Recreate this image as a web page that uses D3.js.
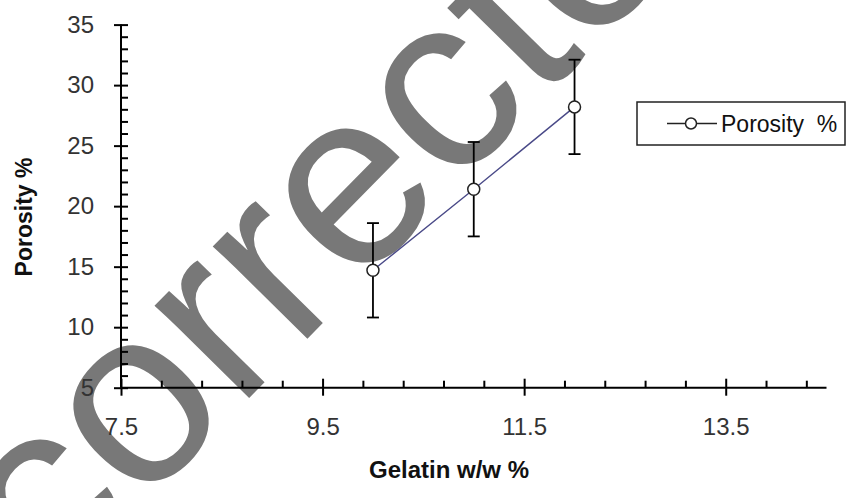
<!DOCTYPE html>
<html>
<head>
<meta charset="utf-8">
<script src="https://cdn.jsdelivr.net/npm/d3@7"></script>
<style>
  html, body { margin: 0; padding: 0; background: #fff; }
  svg { display: block; font-family: "Liberation Sans", Arial, sans-serif; }
</style>
</head>
<body>
<svg id="chart" width="849" height="498"></svg>
<script>
// Porosity of scaffolds vs gelatin content (mean ± error)
const gelatin = [10, 11, 12];
const porosity = [14.7, 21.4, 28.2];
const porosityErr = [3.9, 3.9, 3.9];

const xMajorTicks = [7.5, 9.5, 11.5, 13.5];
const yMajorTicks = [5, 10, 15, 20, 25, 30, 35];
const xDomain = [7.5, 14.5];
const yDomain = [5, 35];
const xMinorStep = 0.4;
const yMinorStep = 1;

const seriesName = "Porosity  %";
const xTitle = "Gelatin w/w %";
const yTitle = "Porosity %";
const stampText = "corrected";

const svg = d3.select("#chart");

const plot = { left: 121, right: 826.5, top: 24.6, bottom: 387.7 };
const x = d3.scaleLinear().domain(xDomain).range([plot.left, plot.right]);
const y = d3.scaleLinear().domain(yDomain).range([plot.bottom, plot.top]);

// large grey stamp lying under the chart
svg.append("text")
  .attr("transform", "translate(51.9,598.7) rotate(-45.5)")
  .attr("font-size", 250)
  .attr("fill", "#787878")
  .text(stampText);

const axisColor = "#000";
const labelColor = "#333";

// minor tick positions
const xMinor = d3.range(xDomain[0], xDomain[1] + 1e-9, xMinorStep)
  .filter(v => !xMajorTicks.some(m => Math.abs(m - v) < 1e-6));
const yMinor = d3.range(yDomain[0], yDomain[1] + 1e-9, yMinorStep)
  .filter(v => !yMajorTicks.some(m => Math.abs(m - v) < 1e-6));

// X axis
const gx = svg.append("g").attr("transform", `translate(0,${plot.bottom})`);
gx.call(d3.axisBottom(x).tickValues(xMinor).tickSize(-7).tickFormat(""));
gx.call(g => g.select(".domain").remove());
const gxMaj = svg.append("g").attr("transform", `translate(0,${plot.bottom})`);
gxMaj.call(d3.axisBottom(x).tickValues(xMajorTicks).tickSize(8).tickPadding(22)
  .tickFormat(d3.format(".1f")));
gxMaj.select(".domain").attr("d", `M${plot.left},0H${plot.right}`);
gxMaj.selectAll(".tick line").attr("y1", -9);
[gx, gxMaj].forEach(g => {
  g.selectAll("line, path").attr("stroke", axisColor).attr("stroke-width", 2);
});
gxMaj.selectAll("text").attr("font-size", 24).attr("fill", labelColor)
  .attr("font-family", "'Liberation Sans', Arial, sans-serif");

// Y axis
const gy = svg.append("g").attr("transform", `translate(${plot.left},0)`);
gy.call(d3.axisLeft(y).tickValues(yMinor).tickSize(-7).tickFormat(""));
gy.call(g => g.select(".domain").remove());
const gyMaj = svg.append("g").attr("transform", `translate(${plot.left},0)`);
gyMaj.call(d3.axisLeft(y).tickValues(yMajorTicks).tickSize(7).tickPadding(20)
  .tickFormat(d3.format("d")));
gyMaj.select(".domain").attr("d", `M0,${plot.bottom}V${plot.top}`);
gyMaj.selectAll(".tick line").attr("x1", 7);
[gy, gyMaj].forEach(g => {
  g.selectAll("line, path").attr("stroke", axisColor).attr("stroke-width", 2);
});
gyMaj.selectAll("text").attr("font-size", 24).attr("fill", labelColor)
  .attr("font-family", "'Liberation Sans', Arial, sans-serif");

// axis titles
svg.append("text")
  .attr("x", 449).attr("y", 478)
  .attr("text-anchor", "middle")
  .attr("font-size", 24).attr("font-weight", "bold").attr("fill", "#111")
  .text(xTitle);
svg.append("text")
  .attr("transform", "translate(32,217) rotate(-90)")
  .attr("text-anchor", "middle")
  .attr("font-size", 23).attr("font-weight", "bold").attr("fill", "#111")
  .text(yTitle);

// data
const pts = gelatin.map((g, i) => ({ x: g, y: porosity[i], e: porosityErr[i] }));

svg.append("path")
  .datum(pts)
  .attr("fill", "none")
  .attr("stroke", "#4a4a88")
  .attr("stroke-width", 1.4)
  .attr("d", d3.line().x(d => x(d.x)).y(d => y(d.y)));

const eb = svg.append("g").attr("stroke", "#000").attr("stroke-width", 1.8);
pts.forEach(d => {
  const cx = x(d.x), top = y(d.y + d.e), bot = y(d.y - d.e);
  eb.append("line").attr("x1", cx).attr("x2", cx).attr("y1", top).attr("y2", bot);
  eb.append("line").attr("x1", cx - 6).attr("x2", cx + 6).attr("y1", top).attr("y2", top);
  eb.append("line").attr("x1", cx - 6).attr("x2", cx + 6).attr("y1", bot).attr("y2", bot);
});

svg.append("g").selectAll("circle")
  .data(pts).join("circle")
  .attr("cx", d => x(d.x)).attr("cy", d => y(d.y))
  .attr("r", 6)
  .attr("fill", "#fff").attr("stroke", "#222").attr("stroke-width", 1.5);

// legend
const lg = svg.append("g");
lg.append("rect")
  .attr("x", 637).attr("y", 102).attr("width", 208).attr("height", 43)
  .attr("fill", "#fff").attr("stroke", "#222").attr("stroke-width", 1.5);
lg.append("line")
  .attr("x1", 667).attr("x2", 717).attr("y1", 123.5).attr("y2", 123.5)
  .attr("stroke", "#222").attr("stroke-width", 1.4);
lg.append("circle")
  .attr("cx", 691).attr("cy", 123.5).attr("r", 5.5)
  .attr("fill", "#fff").attr("stroke", "#222").attr("stroke-width", 1.5);
lg.append("text")
  .attr("x", 721).attr("y", 131.5)
  .attr("font-size", 23).attr("fill", "#111")
  .style("white-space", "pre")
  .text(seriesName);
</script>
</body>
</html>
